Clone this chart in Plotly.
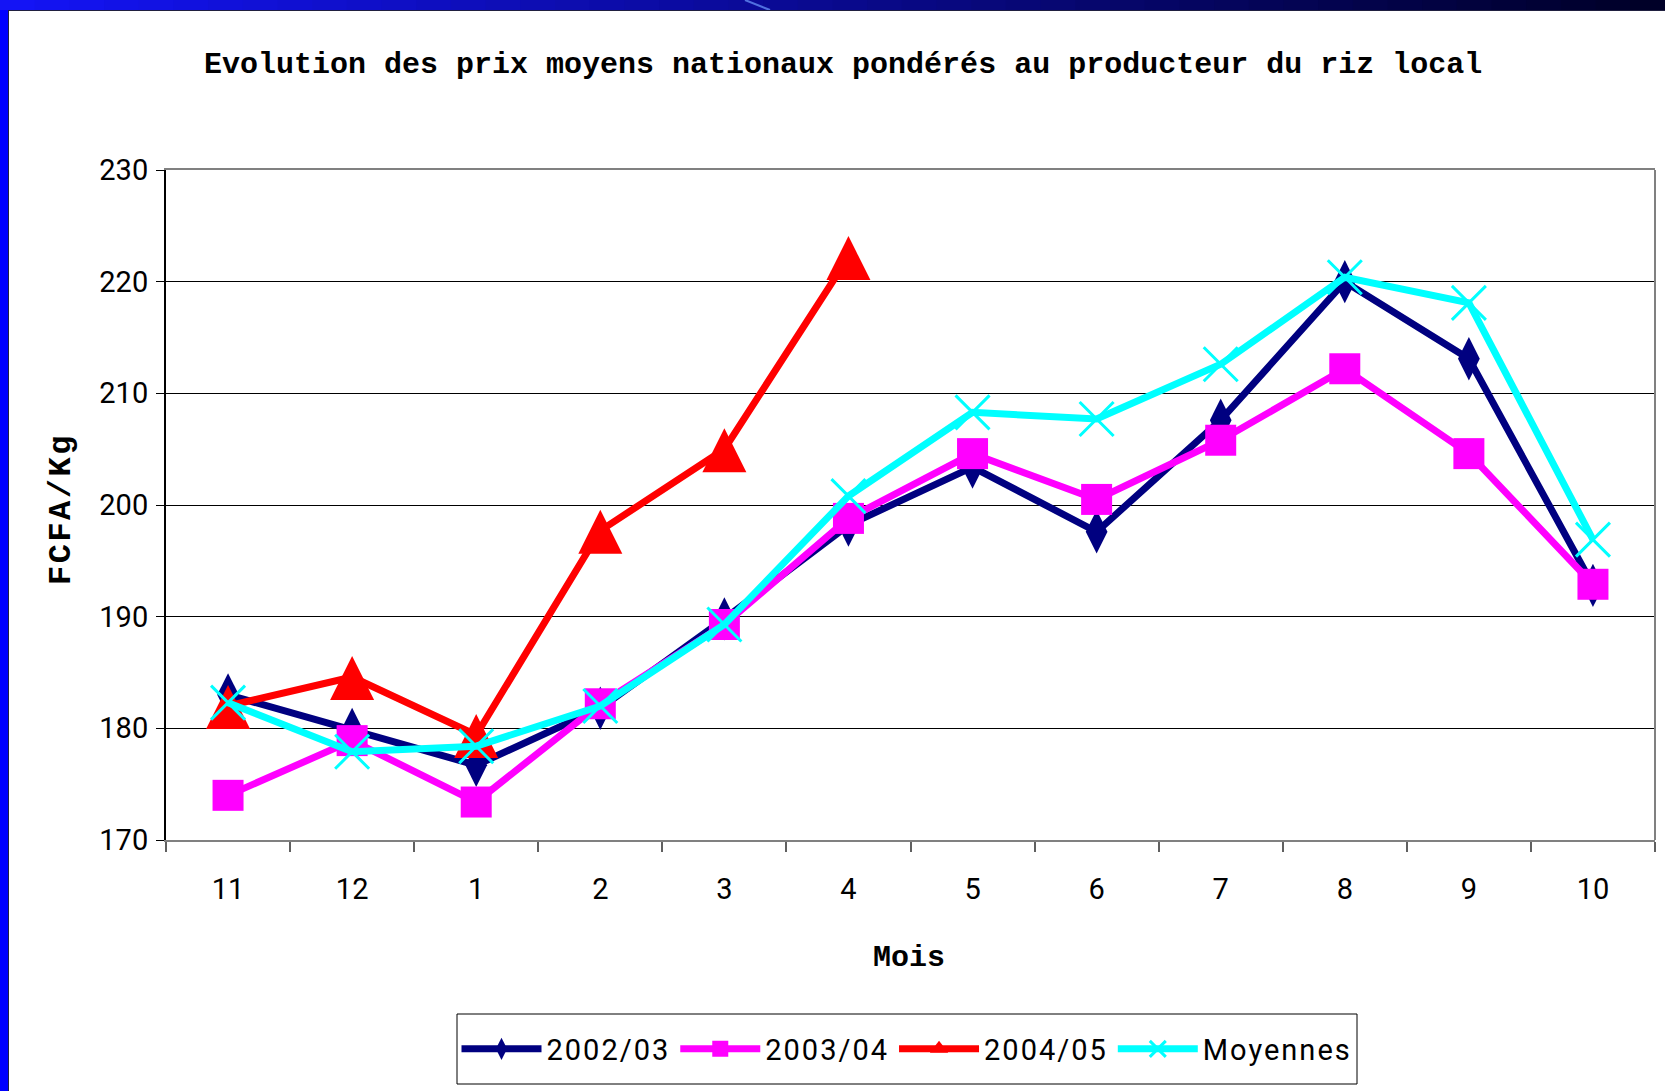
import plotly.graph_objects as go

# ---------------- data ----------------
months = ["11", "12", "1", "2", "3", "4", "5", "6", "7", "8", "9", "10"]
series_names = ["2002/03", "2003/04", "2004/05", "Moyennes"]
prix_2002_03 = [183.0, 179.9, 176.7, 181.8, 189.8, 198.2, 203.4, 197.6, 207.6, 220.0, 213.1, 192.8]
prix_2003_04 = [174.0, 178.9, 173.4, 182.2, 189.3, 198.8, 204.6, 200.5, 205.8, 212.2, 204.6, 192.9]
prix_2004_05 = [182.0, 184.6, 179.4, 197.7, 205.0, 222.2, None, None, None, None, None, None]
prix_moyennes = [182.3, 177.9, 178.4, 182.0, 189.3, 200.8, 208.3, 207.7, 212.6, 220.4, 218.1, 196.9]
y_ticks = [170, 180, 190, 200, 210, 220, 230]

title_text = "Evolution des prix moyens nationaux pondérés au producteur du riz local"
x_title = "Mois"
y_title = "FCFA/Kg"

# ---------------- geometry ----------------
W, H = 1665, 1091
L, R, T, B = 166, 1655, 170, 840  # plot area in pixels
PW, PH = R - L, B - T


def px(x):
    return (x - L) / PW


def py(y):
    return (B - y) / PH


def spaced(s, sp=2):
    return f'<span style="letter-spacing:{sp}px">{s}</span>'


TICK_FONT = dict(family="Roboto, 'Noto Sans', sans-serif", size=29, color="black")
MONO_B = dict(family="'Liberation Mono', 'Courier New', monospace", size=30, color="black", weight="bold")

NAVY, MAGENTA, RED, CYAN = "#000080", "#FF00FF", "#FF0000", "#00FFFF"

fig = go.Figure()

fig.add_trace(go.Scatter(
    x=months, y=prix_2002_03, name=spaced(series_names[0]), mode="lines+markers",
    line=dict(color=NAVY, width=7),
    marker=dict(symbol="diamond-tall", size=31, color=NAVY),
))
fig.add_trace(go.Scatter(
    x=months, y=prix_2003_04, name=spaced(series_names[1]), mode="lines+markers",
    line=dict(color=MAGENTA, width=7),
    marker=dict(symbol="square", size=31, color=MAGENTA),
))
# 2004/05: tall triangles (arrow shape re-centred on the point); legend entry drawn by a data-less twin
fig.add_trace(go.Scatter(
    x=months, y=prix_2004_05, name=spaced(series_names[2]), mode="lines+markers",
    line=dict(color=RED, width=7), showlegend=False, legendgroup="r",
    marker=dict(symbol="arrow-down", size=44, angle=180, standoff=21, color=RED),
))
fig.add_trace(go.Scatter(
    x=[None], y=[None], name=spaced(series_names[2]), mode="lines+markers",
    line=dict(color=RED, width=7), legendgroup="r",
    marker=dict(symbol="triangle-up", size=20, color=RED),
))
fig.add_trace(go.Scatter(
    x=months, y=prix_moyennes, name=spaced(series_names[3]), mode="lines+markers",
    line=dict(color=CYAN, width=7),
    marker=dict(symbol="x-thin-open", size=34, color=CYAN,
                line=dict(width=3, color=CYAN)),
))

shapes = []
# plot-area right border (grey)
shapes.append(dict(type="line", xref="paper", yref="paper", x0=1, x1=1, y0=0, y1=1,
                   line=dict(color="#808080", width=2), layer="above"))
# left blue frame
shapes.append(dict(type="rect", xref="paper", yref="paper",
                   x0=px(0), x1=px(8), y0=py(H), y1=py(0),
                   fillcolor="#0000FF", line=dict(width=0), layer="above"))
shapes.append(dict(type="line", xref="paper", yref="paper",
                   x0=px(8.5), x1=px(8.5), y0=py(H), y1=py(10),
                   line=dict(color="#202040", width=1), layer="above"))
# top gradient band
n = 48
for i in range(n):
    f = i / (n - 1)
    r = int(20 * (1 - f))
    g = int(20 * (1 - f))
    b = int(245 * (1 - f) + 40 * f)
    x0 = W * i / n
    x1 = W * (i + 1) / n + 1
    shapes.append(dict(type="rect", xref="paper", yref="paper",
                       x0=px(x0), x1=px(x1), y0=py(10), y1=py(0),
                       fillcolor=f"rgb({r},{g},{b})", line=dict(width=0), layer="above"))
shapes.append(dict(type="line", xref="paper", yref="paper",
                   x0=px(745), x1=px(770), y0=py(0), y1=py(10),
                   line=dict(color="#5070E0", width=2), layer="above"))
shapes.append(dict(type="line", xref="paper", yref="paper",
                   x0=px(8), x1=px(W), y0=py(10.5), y1=py(10.5),
                   line=dict(color="#202040", width=1), layer="above"))
# legend box
shapes.append(dict(type="rect", xref="paper", yref="paper",
                   x0=px(457), x1=px(1357), y0=py(1084), y1=py(1014),
                   fillcolor="white", line=dict(color="black", width=1), layer="below"))

annotations = [
    dict(text=title_text, xref="paper", yref="paper", x=px(843), y=py(65),
         xanchor="center", yanchor="middle", showarrow=False, font=MONO_B),
    dict(text=spaced(y_title, 2.5), xref="paper", yref="paper",
         x=px(61), y=py(509), xanchor="center", yanchor="middle", textangle=-90,
         showarrow=False, font=dict(MONO_B, size=32)),
    dict(text=x_title, xref="paper", yref="paper", x=px(909), y=py(958),
         xanchor="center", yanchor="middle", showarrow=False, font=MONO_B),
]

fig.update_layout(
    width=W, height=H,
    margin=dict(l=L, r=W - R, t=T, b=H - B, pad=0),
    paper_bgcolor="white", plot_bgcolor="white",
    showlegend=True,
    legend=dict(orientation="h", x=px(907), xanchor="center", y=py(1049), yanchor="middle",
                font=TICK_FONT, bgcolor="rgba(0,0,0,0)", borderwidth=0,
                itemwidth=80, traceorder="normal"),
    shapes=shapes,
    annotations=annotations,
)

fig.update_xaxes(
    type="category", range=[-0.5, 11.5], tickson="boundaries",
    ticks="outside", ticklen=10, tickcolor="#606060", tickwidth=1.5,
    showline=True, linecolor="#808080", linewidth=2, mirror=True,
    showgrid=False, zeroline=False, tickfont=TICK_FONT, ticklabelstandoff=22,
)
fig.update_yaxes(
    range=[170, 230], tickvals=y_ticks, ticktext=[str(v) for v in y_ticks],
    ticks="outside", ticklen=8, tickcolor="black", tickwidth=1,
    showline=True, linecolor="black", linewidth=2,
    showgrid=True, gridcolor="black", gridwidth=1, zeroline=False,
    tickfont=TICK_FONT, ticklabelstandoff=2,
)

fig.write_html("out.html", config={"displayModeBar": False},
               post_script="document.body.style.margin='0';")
